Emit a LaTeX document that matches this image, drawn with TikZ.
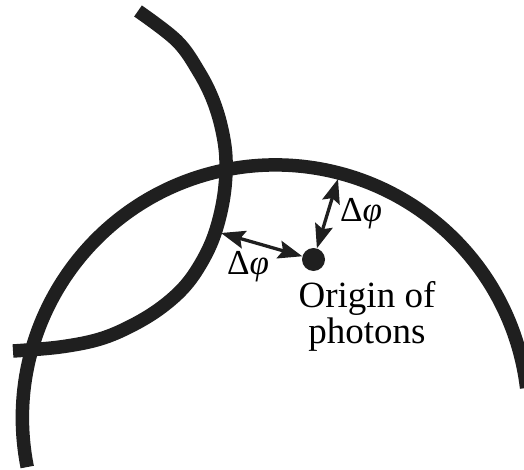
\documentclass[tikz,border=0pt]{standalone}
\usepackage{fontspec}
\setmainfont{Liberation Serif}
\usetikzlibrary{arrows.meta}
\begin{document}
\begin{tikzpicture}[x=1pt,y=1pt,
  wave/.style={line width=13.5pt, draw=black!88},
  gap/.style={line width=3.3pt, draw=black!88, {Stealth[length=24pt,width=18pt,inset=4pt]}-{Stealth[length=24pt,width=18pt,inset=4pt]}},
  lbl/.style={font=\fontsize{35}{36}\selectfont, inner sep=0pt},
  txt/.style={font=\fontsize{37}{36}\selectfont, inner sep=0pt, anchor=base}]
\useasboundingbox (0,0) rectangle (524,469);
% large wavefront (circle arc)
\draw[wave] (275.4,51.1) ++(191.2:253) arc[start angle=191.2, end angle=6.8, radius=253];
% small wavefront
\draw[wave] plot[smooth, tension=0.6] coordinates {(138,458) (177,428) (199,397) (213,369) (222,339) (226,309) (224,274) (216,239) (204,211) (186,184) (162,162) (133,144) (100,130) (60,122) (13,118)};
% origin
\node[circle, fill=black!88, minimum size=23pt, inner sep=0pt] (origin) at (313.5,209.5) {};
\coordinate (a1) at (221,236);
\coordinate (a2) at (338,290);
\draw[gap] (a1) -- (origin);
\draw[gap] (a2) -- (origin);
\node[lbl] (d1) at (248,202) {Δ\textit{φ}};
\node[lbl] (d2) at (361,255) {Δ\textit{φ}};
\node[txt] (t1) at (367,162) {Origin of};
\node[txt] (t2) at (367,126) {photons};
\end{tikzpicture}
\end{document}
